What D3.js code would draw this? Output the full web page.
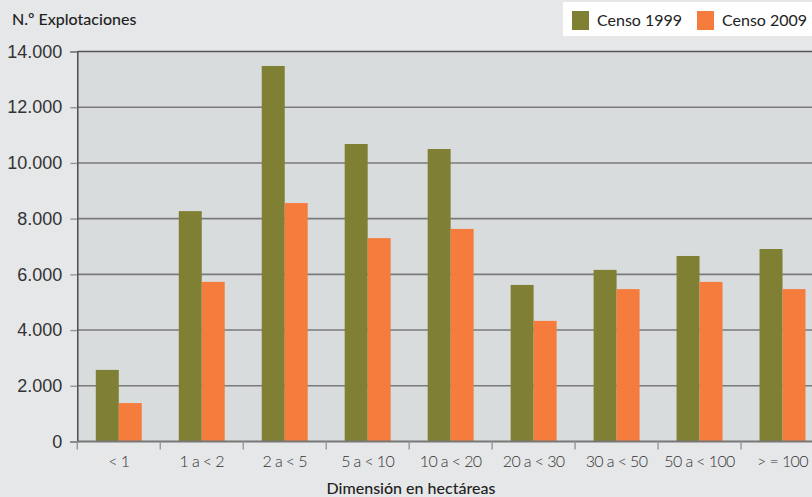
<!DOCTYPE html>
<html>
<head>
<meta charset="utf-8">
<script src="https://cdn.jsdelivr.net/npm/d3@7"></script>
<style>
  html, body { margin: 0; padding: 0; background: #e6e7e8; }
  svg { display: block; font-family: Lato, "Open Sans", sans-serif; }
</style>
</head>
<body>
<div id="chart"></div>
<script>
var categories = ['< 1', '1 a < 2', '2 a < 5', '5 a < 10', '10 a < 20', '20 a < 30', '30 a < 50', '50 a < 100', '> = 100']
var censo1999 = [2570, 8270, 13480, 10680, 10500, 5620, 6160, 6660, 6910]
var censo2009 = [1380, 5730, 8560, 7300, 7630, 4330, 5470, 5730, 5470]
var series_names = ['Censo 1999', 'Censo 2009']
var series_colors = ['#7f8034', '#f57c3c']
var y_ticks = [0, 2000, 4000, 6000, 8000, 10000, 12000, 14000]

var W = 812, H = 497
// window.top is read-only, so plain names for the plot box
var plot_l = 77.3, plot_t = 51.5, plot_b = 441.5, plot_r = 824

var svg = d3.select('#chart').append('svg')
  .attr('width', W)
  .attr('height', H)

svg.append('rect')
  .attr('width', W).attr('height', H)
  .attr('fill', '#e6e7e8')

var x = d3.scaleBand().domain(categories).range([plot_l, plot_r])
  .paddingInner(0.446).paddingOuter(0.223)
var x1 = d3.scaleBand().domain(series_names).range([0, x.bandwidth()])
var y = d3.scaleLinear().domain([0, 14000]).range([plot_b, plot_t])

var es = d3.formatLocale({decimal: ',', thousands: '.', grouping: [3], currency: ['', '€']})
var fmt = es.format(',')

// plot background
svg.append('rect')
  .attr('x', plot_l).attr('y', plot_t)
  .attr('width', plot_r - plot_l).attr('height', plot_b - plot_t)
  .attr('fill', '#d9dcdd')

// grid lines
svg.append('g').selectAll('line')
  .data(y_ticks.slice(1))
  .join('line')
  .attr('x1', plot_l).attr('x2', plot_r)
  .attr('y1', function(d){ return y(d) })
  .attr('y2', function(d){ return y(d) })
  .attr('stroke', function(d){ return d === 14000 ? '#555' : '#7a7a7a' })
  .attr('stroke-width', function(d){ return d === 14000 ? 1.4 : 1.6 })

// bars
var rows = categories.map(function(c, i){ return {cat: c, vals: [censo1999[i], censo2009[i]]} })
svg.append('g').selectAll('g')
  .data(rows)
  .join('g')
  .attr('transform', function(d){ return 'translate(' + x(d.cat) + ',0)' })
  .selectAll('rect')
  .data(function(d){ return d.vals.map(function(v, k){ return {name: series_names[k], v: v, k: k} }) })
  .join('rect')
  .attr('x', function(d){ return x1(d.name) })
  .attr('width', x1.bandwidth())
  .attr('y', function(d){ return y(d.v) })
  .attr('height', function(d){ return plot_b - y(d.v) })
  .attr('fill', function(d){ return series_colors[d.k] })

// y axis
var yAxis = svg.append('g')
  .attr('transform', 'translate(' + plot_l + ',0)')
  .call(d3.axisLeft(y).tickValues(y_ticks).tickFormat(fmt).tickSize(7).tickPadding(8))
yAxis.select('.domain').attr('stroke', '#444').attr('stroke-width', 1.4)
yAxis.selectAll('.tick line').attr('stroke', '#8f9a9c').attr('stroke-width', 1.4)
yAxis.selectAll('.tick text')
  .attr('fill', '#333')
  .style('font-size', '18px')
  .style('font-weight', 300)
  .attr('x', -15)

// x axis
var bounds = categories.map(function(c){ return x(c) - x.step() * x.paddingInner() / 2 })
svg.append('line')
  .attr('x1', plot_l).attr('x2', plot_r)
  .attr('y1', plot_b).attr('y2', plot_b)
  .attr('stroke', '#777').attr('stroke-width', 2)
svg.append('g').selectAll('line')
  .data(bounds)
  .join('line')
  .attr('x1', function(d){ return d }).attr('x2', function(d){ return d })
  .attr('y1', plot_b).attr('y2', plot_b + 8)
  .attr('stroke', '#8f9a9c').attr('stroke-width', 1.4)
svg.append('g').selectAll('text')
  .data(categories)
  .join('text')
  .attr('x', function(d){ return x(d) + x.bandwidth() / 2 })
  .attr('y', 467)
  .attr('text-anchor', 'middle')
  .attr('fill', '#333')
  .style('font-size', '16px')
  .style('font-weight', 300)
  .style('letter-spacing', '-0.6px')
  .text(function(d){ return d })

// axis titles
svg.append('text')
  .attr('x', 12).attr('y', 25)
  .attr('fill', '#222')
  .style('font-size', '16px')
  .style('font-weight', 500)
  .text('N.º Explotaciones')

svg.append('text')
  .attr('x', 411).attr('y', 494)
  .attr('text-anchor', 'middle')
  .attr('fill', '#222')
  .style('font-size', '16px')
  .style('font-weight', 500)
  .text('Dimensión en hectáreas')

// legend
var lg = svg.append('g')
lg.append('rect')
  .attr('x', 563).attr('y', 2)
  .attr('width', 260).attr('height', 34)
  .attr('fill', '#fff')
var items = lg.selectAll('g')
  .data(series_names)
  .join('g')
  .attr('transform', function(d, i){ return 'translate(' + (572 + i * 125) + ',11)' })
items.append('rect')
  .attr('width', 17).attr('height', 19)
  .attr('fill', function(d, i){ return series_colors[i] })
items.append('text')
  .attr('x', 25).attr('y', 15)
  .attr('fill', '#222')
  .style('font-size', '16px')
  .text(function(d){ return d })
</script>
</body>
</html>
